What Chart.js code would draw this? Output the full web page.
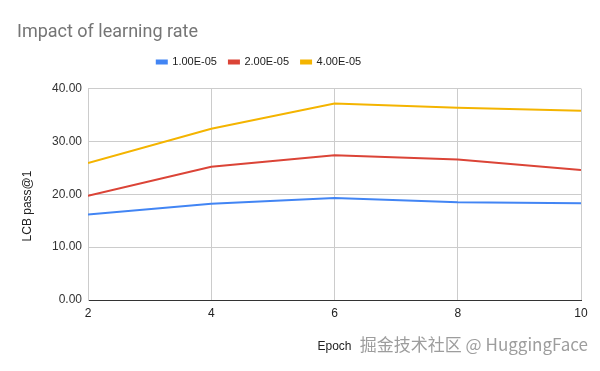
<!DOCTYPE html>
<html>
<head>
<meta charset="utf-8">
<script src="https://cdn.jsdelivr.net/npm/chart.js@4"></script>
<style>
html,body{margin:0;padding:0;background:#fff;}
#wrap{width:600px;height:371px;position:relative;}
</style>
</head>
<body>
<div id="wrap"><canvas id="c" width="600" height="371"></canvas></div>
<script>
const epochs = [2, 4, 6, 8, 10];
const seriesNames = ['1.00E-05', '2.00E-05', '4.00E-05'];
const lr1e5 = [16.2, 18.2, 19.3, 18.5, 18.3];
const lr2e5 = [19.7, 25.2, 27.4, 26.6, 24.6];
const lr4e5 = [25.9, 32.4, 37.2, 36.4, 35.8];
const yTicks = [0, 10, 20, 30, 40];
const titleText = 'Impact of learning rate';
const xTitle = 'Epoch';
const yTitle = 'LCB pass@1';
const watermark = '掘金技术社区 @ HuggingFace';

const colors = ['#4285F4', '#DB4437', '#F4B400'];
const FONT = "'Liberation Sans', Arial, sans-serif";

function toPoints(vals){ return epochs.map((e,i)=>({x:e, y:vals[i]})); }
const allSeries = [lr1e5, lr2e5, lr4e5];

const legendSpacer = {
  id: 'legendSpacer',
  beforeUpdate(chart){
    const lg = chart.legend;
    if (lg && !lg._patched){
      const orig = lg.fit.bind(lg);
      lg.fit = function(){ orig(); this.height += 10; };
      lg._patched = true;
    }
  },
  afterLayout(chart){
    const lg = chart.legend;
    if (lg){ lg.left -= 40; lg.right -= 40; lg.top -= 1; lg.bottom -= 1; }
  }
};

const watermarkPlugin = {
  id: 'wm',
  afterDraw(chart){
    const ctx = chart.ctx;
    ctx.save();
    ctx.font = "17px 'Noto Sans CJK SC', sans-serif";
    ctx.textAlign = 'right';
    ctx.textBaseline = 'middle';
    ctx.fillStyle = 'rgba(255,255,255,0.8)';
    ctx.fillText(watermark, 589, 346);
    ctx.fillStyle = 'rgba(140,140,140,0.85)';
    ctx.fillText(watermark, 588, 345);
    ctx.restore();
  }
};

new Chart(document.getElementById('c'), {
  type: 'line',
  data: {
    datasets: allSeries.map((vals, i) => ({
      label: seriesNames[i],
      data: toPoints(vals),
      borderColor: colors[i],
      backgroundColor: colors[i],
      borderWidth: 2,
      pointRadius: 0,
      tension: 0,
      fill: false
    }))
  },
  options: {
    responsive: false,
    animation: false,
    devicePixelRatio: 1,
    layout: { padding: { left: 17, right: 19, top: 0, bottom: 0 } },
    plugins: {
      title: {
        display: true,
        text: titleText,
        align: 'start',
        color: '#757575',
        font: { family: "Roboto, 'Liberation Sans', Arial, sans-serif", size: 18, weight: 'normal' },
        padding: { top: 22, bottom: 2 }
      },
      legend: {
        display: true,
        position: 'top',
        align: 'center',
        labels: {
          boxWidth: 10,
          boxHeight: 3,
          padding: 12,
          color: '#222',
          font: { family: FONT, size: 11 }
        }
      },
      tooltip: { enabled: false }
    },
    scales: {
      x: {
        type: 'linear',
        min: 2, max: 10,
        afterFit(s){ s.height = 71; },
        ticks: { stepSize: 2, color: '#222', font: { family: FONT, size: 12 }, padding: 6 },
        grid: { color: '#cccccc', drawTicks: false },
        border: { color: '#333333', width: 1 },
        title: { display: true, text: xTitle, color: '#222', font: { family: FONT, size: 12 }, padding: { top: 4, bottom: 17 } }
      },
      y: {
        type: 'linear',
        min: 0, max: 40,
        afterFit(s){ s.width = 71; },
        afterBuildTicks(s){ s.ticks = yTicks.map(v => ({ value: v })); },
        ticks: { color: '#333', font: { family: FONT, size: 12 }, padding: 6, callback: v => Number(v).toFixed(2) },
        grid: { color: '#cccccc', drawTicks: false },
        border: { color: '#cccccc', width: 1 },
        title: { display: true, text: yTitle + '       ', color: '#222', font: { family: FONT, size: 12 }, padding: { top: 3, bottom: 0 } }
      }
    }
  },
  plugins: [legendSpacer, watermarkPlugin]
});
</script>
</body>
</html>
